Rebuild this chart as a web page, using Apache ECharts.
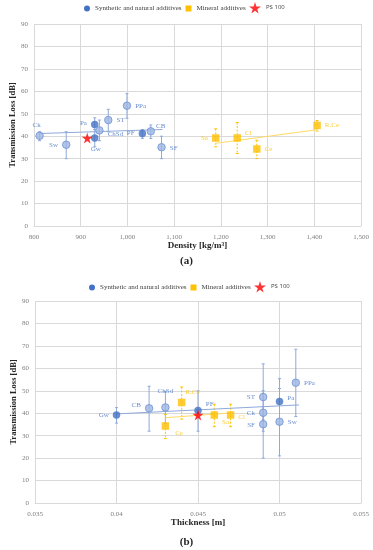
<!DOCTYPE html>
<html>
<head>
<meta charset="utf-8">
<script src="https://cdn.jsdelivr.net/npm/echarts@6/dist/echarts.min.js"></script>
<style>html,body{margin:0;padding:0;background:#fff}#c{width:373px;height:550px}</style>
</head>
<body>
<div id="c"></div>
<script>
// ---- data ----
const synNames = ['Ck','Sw','Pa','Gw','ChSd','ST','PPa','PF','CB','SF'];
const synDensity = [812, 869, 930, 930, 940, 959, 999, 1032, 1050, 1073];
const synThickness = [0.049, 0.050, 0.050, 0.040, 0.043, 0.049, 0.051, 0.045, 0.042, 0.049];
const synTL = [40.2, 36.2, 45.2, 39.2, 42.6, 47.2, 53.6, 41.2, 42.2, 35.1];
const synErrLowA = [38, 30, 43, 35.3, 38, 42, 48, 39, 39, 30];
const synErrHighA = [42, 42, 48.2, 43, 47.2, 52, 59, 43, 45, 40];
const synErrLowB = [37, 21, 35, 35.6, 35.5, 32, 38.5, 32, 32, 20];
const synErrHighB = [43, 51, 55.4, 42.5, 49.6, 62, 68.5, 50, 52, 50];
const synSolid = ['Pa','Gw','PF'];

const minNames = ['Sa','Cl','Ce','R.Ce'];
const minDensity = [1189, 1235, 1277, 1406];
const minThickness = [0.046, 0.047, 0.043, 0.044];
const minTL = [39.2, 39.2, 34.3, 44.8];
const minErrLowA = [35.3, 32.3, 30, 42.3];
const minErrHighA = [43.3, 46.1, 38.2, 47];
const minErrLowB = [34, 34, 28.7, 37.4];
const minErrHighB = [44, 44, 39.5, 51.7];

const psDensity = 914, psThickness = 0.045, psTL = 39.2;

const trendSynA = [[812, 41.2], [1075, 43.0]];
const trendMinA = [[1188, 36.8], [1406, 42.9]];
const trendSynB = [[0.040, 39.7], [0.0512, 43.7]];
const trendMinB = [[0.043, 38.0], [0.047, 40.1]];

const densityTicks = {min: 800, max: 1500, interval: 100};
const thicknessTicks = {min: 0.035, max: 0.055, interval: 0.005};
const tlTicks = {min: 0, max: 90, interval: 10};

// ---- styles ----
const BLUE = '#4472C4', LIGHT = '#9FB6E2', LIGHTB = '#6F93D3', ERRB = '#8EA9DB';
const ORANGE = '#FFC000', TRENDO = '#FFD966';
const SERIF = '"Liberation Serif","DejaVu Serif",serif';
const STAR = 'path://M50,0 L61,35 L98,35 L68,57 L79,91 L50,70 L21,91 L32,57 L2,35 L39,35 Z';

const labPosA = {Ck:['top',[-3,1]], Sw:['left',[0,0]], Pa:['left',[0,-1]], Gw:['bottom',[1,0]], ChSd:['right',[0,4]],
  ST:['right',[0,0]], PPa:['right',[0,0]], PF:['left',[0,0]], CB:['right',[-3,-5]], SF:['right',[0,1]],
  Sa:['left',[0,0]], Cl:['right',[0,-5]], Ce:['right',[0,0]], 'R.Ce':['right',[0,0]]};
const labPosB = {Ck:['left',[0,0]], Sw:['right',[0,0]], Pa:['right',[0,-3]], Gw:['left',[0,0]], ChSd:['top',[0,-4]],
  ST:['left',[0,0]], PPa:['right',[0,0]], PF:['right',[0,-6]], CB:['left',[0,-3]], SF:['left',[0,1]],
  Sa:['right',[0,7]], Cl:['right',[0,2]], Ce:['right',[2,7]], 'R.Ce':['right',[-4,-10]]};

function pts(names, xs, ys, labPos, color, solid) {
  return names.map((n, i) => {
    const lp = labPos[n];
    const light = solid && solid.indexOf(n) < 0;
    return {
      value: [xs[i], ys[i]], name: n,
      itemStyle: light ? {color: LIGHT, borderColor: LIGHTB, borderWidth: 1} : {color: color},
      label: {show: true, formatter: n, position: lp[0], offset: lp[1], distance: 4,
        color: color, fontFamily: SERIF, fontSize: 7}
    };
  });
}
function errs(xs, lo, hi) { return xs.map((x, i) => [x, lo[i], hi[i]]); }
function errSeries(name, data, gi, color, dashed, legendColor) {
  return {
    type: 'custom', name: name, xAxisIndex: gi, yAxisIndex: gi, z: 2, silent: true,
    itemStyle: {color: legendColor},
    data: data, encode: {x: 0, y: [1, 2]},
    renderItem: function (params, api) {
      const x = api.value(0), lo = api.value(1), hi = api.value(2);
      const a = api.coord([x, hi]), b = api.coord([x, lo]);
      const st = {stroke: color, lineWidth: 1, lineDash: dashed ? [2, 1.5] : null};
      return {type: 'group', children: [
        {type: 'line', shape: {x1: a[0], y1: a[1], x2: b[0], y2: b[1]}, style: st},
        {type: 'line', shape: {x1: a[0]-1.5, y1: a[1], x2: a[0]+1.5, y2: a[1]}, style: {stroke: color, lineWidth: 1}},
        {type: 'line', shape: {x1: b[0]-1.5, y1: b[1], x2: b[0]+1.5, y2: b[1]}, style: {stroke: color, lineWidth: 1}}
      ]};
    }
  };
}
function trend(name, data, gi, color, legendColor) {
  return {type: 'line', name: name, xAxisIndex: gi, yAxisIndex: gi, data: data, symbol: 'none', silent: true,
    itemStyle: {color: legendColor}, lineStyle: {color: color, width: 1}, z: 3};
}

const axisLabel = {color: '#7F7F7F', fontFamily: SERIF, fontSize: 7};
const split = {show: true, lineStyle: {color: '#D9D9D9', width: 1}};
function xAx(gi, t, name) {
  return {type: 'value', gridIndex: gi, min: t.min, max: t.max, interval: t.interval,
    axisLine: {show: true, lineStyle: {color: '#D9D9D9'}}, axisTick: {show: false},
    axisLabel: Object.assign({margin: 8}, axisLabel), splitLine: split,
    name: name, nameLocation: 'middle', nameGap: 15, nameMoveOverlap: false,
    nameTextStyle: {fontFamily: SERIF, fontWeight: 'bold', fontSize: 9, color: '#262626'}};
}
function yAx(gi) {
  return {type: 'value', gridIndex: gi, min: tlTicks.min, max: tlTicks.max, interval: tlTicks.interval,
    axisLine: {show: false}, axisTick: {show: false}, axisLabel: Object.assign({margin: 6}, axisLabel), splitLine: split,
    name: 'Transmission Loss [dB]', nameLocation: 'middle', nameGap: 17, nameMoveOverlap: false,
    nameTextStyle: {fontFamily: SERIF, fontWeight: 'bold', fontSize: 8.5, color: '#262626'}};
}

const SYN = 'Synthetic and natural additives', MIN = 'Mineral additives', PS = 'PS 100';
function legendMain(top, left) {
  return {top: top, left: left, padding: 0, itemWidth: 6, itemHeight: 6, itemGap: 4,
    textStyle: {fontFamily: SERIF, fontSize: 7, color: '#404040'},
    data: [{name: SYN, icon: 'circle', itemStyle: {color: BLUE}},
      {name: MIN, icon: 'rect', itemStyle: {color: ORANGE}}]};
}
function legendStar(top, left) {
  return {top: top, left: left, padding: 0, itemWidth: 12, itemHeight: 12, itemGap: 4,
    textStyle: {fontFamily: '"Open Sans",sans-serif', fontSize: 6, color: '#404040'},
    data: [{name: PS, icon: STAR, itemStyle: {color: '#FF0000'}}]};
}

const option = {
  animation: false,
  backgroundColor: '#fff',
  legend: [legendMain(5, 84), legendStar(2, 249), legendMain(284, 89), legendStar(281, 254)],
  grid: [{left: 34, width: 327, top: 24, height: 202, outerBoundsMode: 'none', containLabel: false},
         {left: 35, width: 326, top: 301, height: 202, outerBoundsMode: 'none', containLabel: false}],
  xAxis: [xAx(0, densityTicks, 'Density [kg/m³]'), xAx(1, thicknessTicks, 'Thickness [m]')],
  yAxis: [yAx(0), yAx(1)],
  graphic: [
    {type: 'text', left: 'center', top: 256, style: {text: '(a)', font: 'bold 11px ' + SERIF, fill: '#262626'}},
    {type: 'text', left: 'center', top: 537, style: {text: '(b)', font: 'bold 11px ' + SERIF, fill: '#262626'}}
  ],
  series: [
    errSeries(SYN, errs(synDensity, synErrLowA, synErrHighA), 0, ERRB, false, BLUE),
    errSeries(MIN, errs(minDensity, minErrLowA, minErrHighA), 0, ORANGE, true, ORANGE),
    trend(SYN, trendSynA, 0, ERRB, BLUE),
    trend(MIN, trendMinA, 0, TRENDO, ORANGE),
    {type: 'scatter', name: SYN, xAxisIndex: 0, yAxisIndex: 0, symbol: 'circle', symbolSize: 7.5, z: 5,
      itemStyle: {color: BLUE}, data: pts(synNames, synDensity, synTL, labPosA, BLUE, synSolid)},
    {type: 'scatter', name: MIN, xAxisIndex: 0, yAxisIndex: 0, symbol: 'rect', symbolSize: 7.5, z: 5,
      itemStyle: {color: ORANGE}, data: pts(minNames, minDensity, minTL, labPosA, ORANGE, null)},
    {type: 'scatter', name: PS, xAxisIndex: 0, yAxisIndex: 0, symbol: STAR, symbolSize: 11, z: 6,
      itemStyle: {color: '#FF0000'}, data: [[psDensity, psTL]]},

    errSeries(SYN, errs(synThickness, synErrLowB, synErrHighB), 1, ERRB, false, BLUE),
    errSeries(MIN, errs(minThickness, minErrLowB, minErrHighB), 1, ORANGE, true, ORANGE),
    trend(SYN, trendSynB, 1, ERRB, BLUE),
    trend(MIN, trendMinB, 1, TRENDO, ORANGE),
    {type: 'scatter', name: SYN, xAxisIndex: 1, yAxisIndex: 1, symbol: 'circle', symbolSize: 7.5, z: 5,
      itemStyle: {color: BLUE}, data: pts(synNames, synThickness, synTL, labPosB, BLUE, synSolid)},
    {type: 'scatter', name: MIN, xAxisIndex: 1, yAxisIndex: 1, symbol: 'rect', symbolSize: 7.5, z: 5,
      itemStyle: {color: ORANGE}, data: pts(minNames, minThickness, minTL, labPosB, ORANGE, null)},
    {type: 'scatter', name: PS, xAxisIndex: 1, yAxisIndex: 1, symbol: STAR, symbolSize: 11, z: 6,
      itemStyle: {color: '#FF0000'}, data: [[psThickness, psTL]]}
  ]
};
const chart = echarts.init(document.getElementById('c'), null, {renderer: 'canvas'});
chart.setOption(option);
</script>
</body>
</html>
